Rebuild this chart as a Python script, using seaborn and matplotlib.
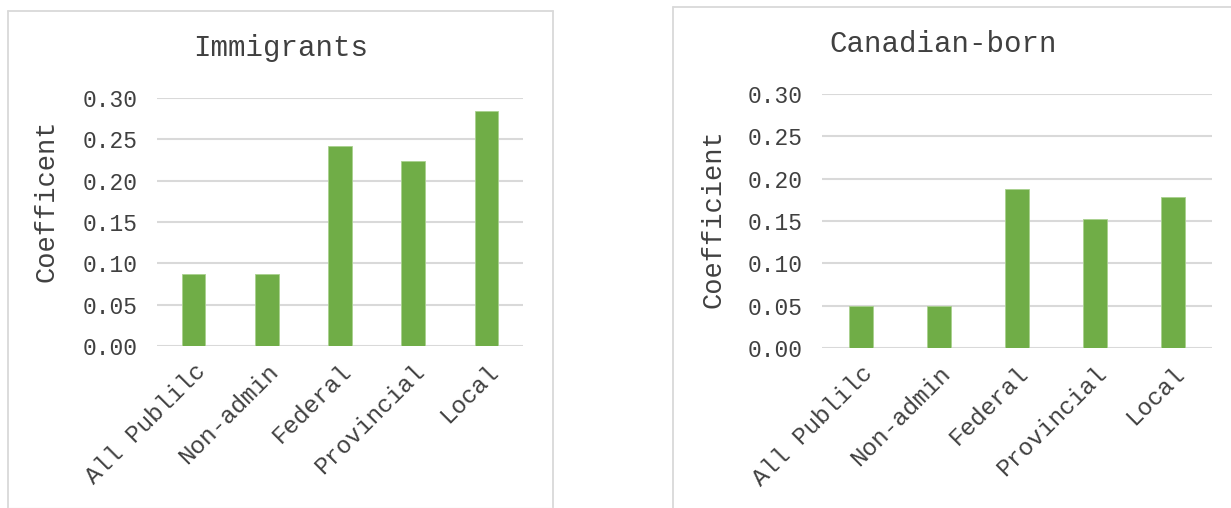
import matplotlib
matplotlib.use("Agg")
import matplotlib.pyplot as plt
import seaborn as sns
import pandas as pd
from matplotlib.patches import Rectangle
from matplotlib.lines import Line2D

categories = ["All Publilc", "Non-admin", "Federal", "Provincial", "Local"]
immigrants = [0.087, 0.087, 0.242, 0.224, 0.284]
canadian_born = [0.050, 0.050, 0.188, 0.152, 0.178]
yticks = [0.00, 0.05, 0.10, 0.15, 0.20, 0.25, 0.30]

sns.set_theme(style="white")
plt.rcParams['font.family'] = ['Liberation Mono', 'DejaVu Sans']

W, H = 1231, 508
fig = plt.figure(figsize=(W / 100, H / 100), dpi=100)
fig.patch.set_facecolor("white")

TEXT = "#404040"
GREEN = "#70AD47"
GRID = "#D9D9D9"

def fx(px):
    return px / W

def fy(py):
    return 1 - py / H

def fline(xs, ys, color=GRID, lw=1.3):
    fig.add_artist(Line2D([fx(x) for x in xs], [fy(y) for y in ys],
                          transform=fig.transFigure, color=color, lw=lw))

# panel borders
fline([8, 8], [508, 11])
fline([8, 553], [11, 11])
fline([553, 553], [11, 508])
fline([8, 553], [507.5, 507.5], color="#F0F0F0", lw=1.0)
fline([673, 673], [508, 7])
fline([673, 1231], [7, 7])

panels = [
    dict(vals=immigrants, title="Immigrants", ylabel="Coefficent",
         box=(157, 523, 98, 346), title_xy=(281, 48), ylab_xy=(47, 201)),
    dict(vals=canadian_born, title="Canadian-born", ylabel="Coefficient",
         box=(822, 1212, 94, 348), title_xy=(943, 44), ylab_xy=(713, 219)),
]

for p in panels:
    x0, x1, ytop, ybot = p["box"]
    ax = fig.add_axes([fx(x0), fy(ybot), fx(x1) - fx(x0), fy(ytop) - fy(ybot)])
    df = pd.DataFrame({"cat": categories, "val": p["vals"]})
    sns.barplot(data=df, x="cat", y="val", ax=ax, color=GREEN, saturation=1,
                width=0.32, edgecolor="#A9D18E", linewidth=0.6)
    ax.set_ylim(0, 0.30)
    ax.set_xlim(-0.5, len(categories) - 0.5)
    ax.set_yticks(yticks)
    ax.set_yticklabels([f"{t:.2f}" for t in yticks], fontsize=16.5, color=TEXT)
    ax.yaxis.grid(True, color=GRID, lw=1.5)
    ax.set_axisbelow(True)
    for s in ax.spines.values():
        s.set_visible(False)
    ax.tick_params(axis="both", length=0)
    ax.tick_params(axis="y", pad=14)
    ax.tick_params(axis="x", pad=10)
    ax.set_xticks(range(len(categories)))
    ax.set_xticklabels(categories, rotation=45, ha="right", rotation_mode="anchor",
                       fontsize=17.5, color=TEXT)
    ax.set_xlabel("")
    ax.set_ylabel("")
    fig.text(fx(p["title_xy"][0]), fy(p["title_xy"][1]), p["title"], ha="center",
             va="center", fontsize=21, color=TEXT)
    fig.text(fx(p["ylab_xy"][0]), fy(p["ylab_xy"][1]), p["ylabel"], ha="center",
             va="center", rotation=90, fontsize=19.5, color=TEXT)

fig.savefig("out.png", dpi=100)
